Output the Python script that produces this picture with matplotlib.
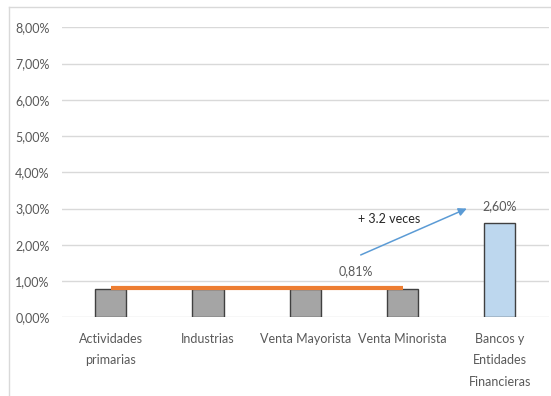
import matplotlib
matplotlib.use("Agg")
import matplotlib.pyplot as plt
from matplotlib.lines import Line2D
from matplotlib.ticker import FixedLocator, FuncFormatter

# Sector data (percent)
categorias = ["Actividades\nprimarias", "Industrias", "Venta Mayorista",
              "Venta Minorista", "Bancos y\nEntidades\nFinancieras"]
valores = [0.79, 0.79, 0.79, 0.79, 2.60]
promedio = 0.81
etiqueta_promedio = "0,81%"
etiqueta_bancos = "2,60%"
etiqueta_flecha = "+ 3.2 veces"
yticks = [0, 1, 2, 3, 4, 5, 6, 7, 8]

FONT = ["Lato", "DejaVu Sans"]
FS = 9.0
TXT = "#595959"

fig = plt.figure(figsize=(5.51, 3.96), dpi=100)
ax = fig.add_axes([62 / 551, 1 - 317.3 / 396, (548.5 - 62) / 551, (317.3 - 27.3) / 396])

x = list(range(len(categorias)))
colores = ["#a5a5a5"] * 4 + ["#bdd7ee"]
ax.bar(x, valores, width=0.32, color=colores, edgecolor="#404040", linewidth=1.0, zorder=2)

# average line across the first four sectors
ax.plot([x[0], x[3]], [promedio, promedio], color="#ed7d31", linewidth=3.0,
        solid_capstyle="butt", zorder=3)

ax.set_xlim(-0.5, len(categorias) - 0.5)
ax.set_ylim(0, 8)
ax.yaxis.set_major_locator(FixedLocator(yticks))
ax.yaxis.set_major_formatter(FuncFormatter(lambda v, p: f"{v:.2f}%".replace(".", ",")))
ax.grid(axis="y", color="#d9d9d9", linewidth=1.0, zorder=0)
ax.set_axisbelow(True)
for s in ax.spines.values():
    s.set_visible(False)
ax.tick_params(axis="y", length=0, pad=9, labelcolor=TXT, labelsize=FS)
ax.tick_params(axis="x", length=0, pad=11, labelcolor=TXT, labelsize=FS)
ax.set_xticks(x)
ax.set_xticklabels(categorias, linespacing=1.95, va="top")
for lab in ax.get_xticklabels() + ax.get_yticklabels():
    lab.set_family(FONT)

# labels and arrow
ax.text(2.52, 1.28, etiqueta_promedio, ha="center", va="center", color=TXT,
        fontsize=FS, family=FONT)
ax.text(4.0, 3.07, etiqueta_bancos, ha="center", va="center", color=TXT,
        fontsize=FS, family=FONT)
ax.text(2.86, 2.71, etiqueta_flecha, ha="center", va="center", color="#262626",
        fontsize=FS, family=FONT)
ax.annotate("", xy=(3.66, 3.0), xytext=(2.57, 1.72),
            arrowprops=dict(arrowstyle="-|>", color="#5b9bd5", lw=1.1,
                            mutation_scale=12, shrinkA=0, shrinkB=0))

# chart area border
fig.add_artist(Line2D([9 / 551, 9 / 551], [0, 1 - 7 / 396], color="#d9d9d9", lw=1.0))
fig.add_artist(Line2D([9 / 551, 1], [1 - 7 / 396, 1 - 7 / 396], color="#d9d9d9", lw=1.0))

fig.savefig("out.png", dpi=100, facecolor="white")
